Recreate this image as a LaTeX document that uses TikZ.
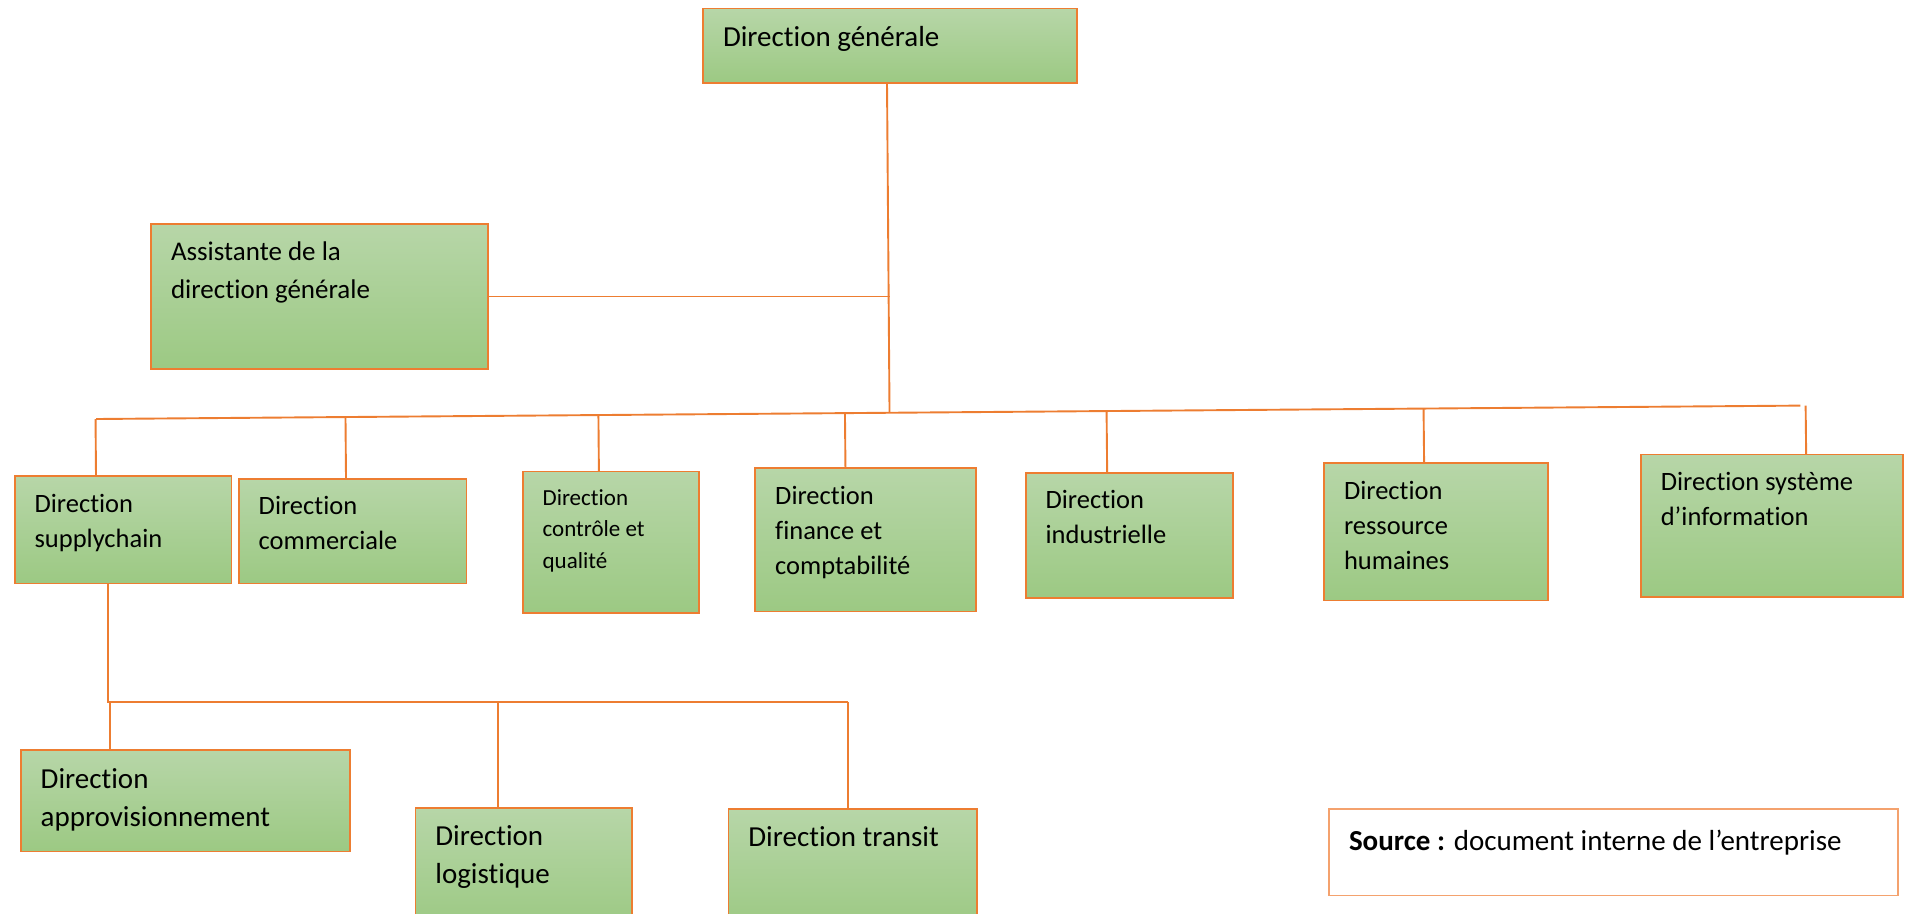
\documentclass[tikz,border=0pt]{standalone}
\usepackage{fontspec}
\setmainfont{Carlito}[Ligatures=NoCommon]
\usetikzlibrary{calc}

\definecolor{orgorange}{RGB}{237,125,49}
\definecolor{srcorange}{RGB}{244,162,110}
\definecolor{greentop}{RGB}{183,214,168}
\definecolor{greenbot}{RGB}{156,201,131}

\begin{document}
\begin{tikzpicture}[x=1pt, y=-1pt,
		every node/.style={inner sep=0pt, outer sep=0pt},
		orgbox/.style={rectangle, draw=orgorange, line width=1.8pt, top color=greentop, bottom color=greenbot, anchor=north west},
		txt/.style={anchor=north west, align=left, xshift=20pt, yshift=-18pt, text=black},
		link/.style={draw=orgorange, line width=1.9pt},
		fbig/.style={font=\fontsize{29}{37.8}\selectfont},
		fmid/.style={font=\fontsize{26.5}{35}\selectfont},
		fsmall/.style={font=\fontsize{23}{31.7}\selectfont}]
\useasboundingbox (0,0) rectangle (1910,913);

\node[orgbox, minimum width=374, minimum height=74.5, label={[txt, fbig]north west:Direction générale}] (dg) at (703,8.5) {};
\node[orgbox, minimum width=337, minimum height=145, label={[txt, font=\fontsize{27}{37.8}\selectfont]north west:Assistante de la\\direction générale}] (as) at (151,224) {};

% directions
\node[orgbox, minimum width=216.8, minimum height=107.2, label={[txt, fmid]north west:Direction\\supplychain}] (sc) at (14.6,476.3) {};
\node[orgbox, minimum width=227.8, minimum height=104.8, label={[txt, fmid]north west:Direction\\commerciale}] (cm) at (238.7,478.7) {};
\node[orgbox, minimum width=176.6, minimum height=141.3, label={[txt, fsmall]north west:Direction\\contrôle et\\qualité}] (cq) at (522.6,471.4) {};
\node[orgbox, minimum width=220.5, minimum height=143.7, label={[txt, fmid]north west:Direction\\finance et\\comptabilité}] (fc) at (755.2,467.8) {};
\node[orgbox, minimum width=207.1, minimum height=125.5, label={[txt, fmid]north west:Direction\\industrielle}] (ind) at (1025.6,472.6) {};
\node[orgbox, minimum width=224.2, minimum height=137.6, label={[txt, fmid]north west:Direction\\ressource\\humaines}] (rh) at (1324,462.9) {};
\node[orgbox, minimum width=261.9, minimum height=142.5, label={[txt, fmid]north west:Direction système\\d’information}] (si) at (1640.8,454.4) {};

% supplychain
\node[orgbox, minimum width=328.9, minimum height=101.1, label={[txt, fbig]north west:Direction\\approvisionnement}] (ap) at (20.7,750.3) {};
\node[orgbox, minimum width=216.8, minimum height=120, label={[txt, fbig]north west:Direction\\logistique}] (lg) at (415.4,807.6) {};
\node[orgbox, minimum width=248.5, minimum height=120, label={[txt, fbig]north west:Direction transit}] (tr) at (728.4,808.8) {};

\node[rectangle, draw=srcorange, line width=1.5pt, fill=white, anchor=north west, minimum width=568.8, minimum height=86.5,
	label={[txt, fbig, yshift=-3pt]north west:\textbf{Source :} document interne de l’entreprise}] (src) at (1329,808.8) {};

\coordinate (bl) at (96.2,419);
\coordinate (br) at (1800.4,405.6);
\coordinate (sl) at (108.4,701.6);
\coordinate (sr) at (847.8,701.6);

\draw[link] (bl) -- (br);
\draw[link] ([xshift=-3]dg.south) -- ($(bl)!([xshift=-3]dg.south)!(br)$);
\draw[link] (as.east) -- (as.east -| dg.south);
\foreach \n/\dx in {sc/-27, cm/-6.6, cq/-12, fc/-20, ind/-22, rh/-12, si/34.4}
	\draw[link] ([xshift=\dx]\n.north) -- ($(bl)!([xshift=\dx]\n.north)!(br)$);

\draw[link] ([xshift=-14.6]sc.south) -- (sl) -- (sr);
\foreach \n/\dx in {ap/-75.6, lg/-25.6, tr/-5}
	\draw[link] ([xshift=\dx]\n.north) -- ($(sl)!([xshift=\dx]\n.north)!(sr)$);
\end{tikzpicture}
\end{document}
